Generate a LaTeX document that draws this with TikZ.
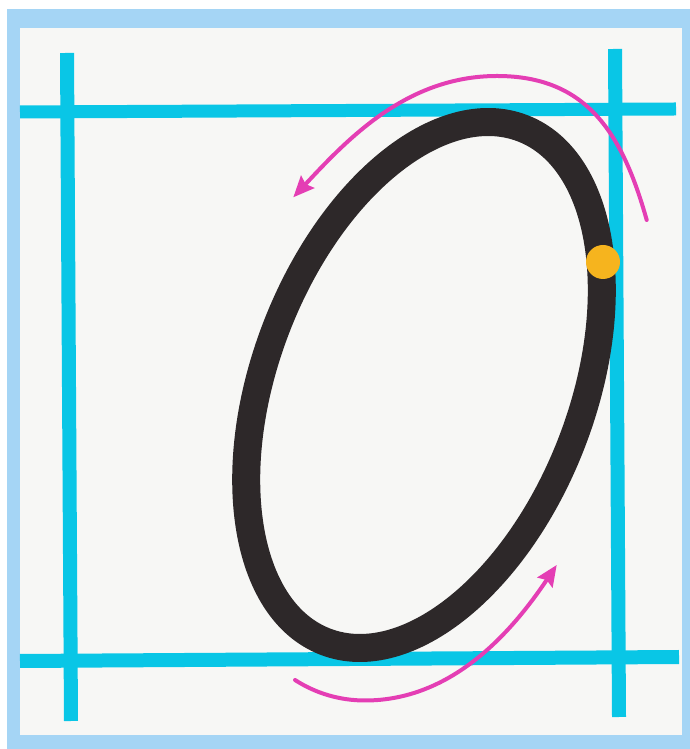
\documentclass[tikz,border=0pt]{standalone}
\usetikzlibrary{arrows.meta}
\definecolor{framebl}{RGB}{165,213,245}
\definecolor{paper}{RGB}{247,247,245}
\definecolor{guide}{RGB}{9,198,230}
\definecolor{ink}{RGB}{45,40,41}
\definecolor{arrowpink}{RGB}{228,62,180}
\definecolor{dotorange}{RGB}{246,180,30}
\begin{document}
\begin{tikzpicture}[x=1pt,y=1pt,
  guideline/.style={guide, line width=14pt},
  motion/.style={arrowpink, line width=4pt, line cap=round,
    -{Stealth[length=21pt,width=18pt,inset=3pt]}}]
\useasboundingbox (0,0) rectangle (690,749);
\fill[white] (0,0) rectangle (690,749);
\fill[framebl] (7,0) rectangle (690,740);
\fill[paper] (20,14) rectangle (682,721);
% guide lines
\draw[guideline] (67,696) -- (71,28);
\draw[guideline] (615,700) -- (619,32);
\draw[guideline, line width=13pt] (20,637) -- (676,640);
\draw[guideline] (20,88) -- (679,92);
% the zero
\draw[ink, line width=28pt, rotate around={69:(424,364)}] (424,364) ellipse [x radius=275pt, y radius=158.5pt];
% motion arrows
\coordinate (topstart) at (646.7,529);
\coordinate (toppeak) at (497,673);
\coordinate (topend) at (293.3,551.7);
\draw[motion] (topstart) .. controls (622.4,615.4) and (587,673) .. (toppeak)
  .. controls (407,673) and (347.7,610.1) .. (topend);
\coordinate (botstart) at (295,69);
\coordinate (botlow) at (365,48.5);
\coordinate (botend) at (556.7,184);
\draw[motion] (botstart) .. controls (316,55.5) and (340,48.5) .. (botlow)
  .. controls (450,48.5) and (509.4,113.4) .. (botend);
% start dot
\fill[dotorange] (603,487) circle[radius=17pt];
\end{tikzpicture}
\end{document}
